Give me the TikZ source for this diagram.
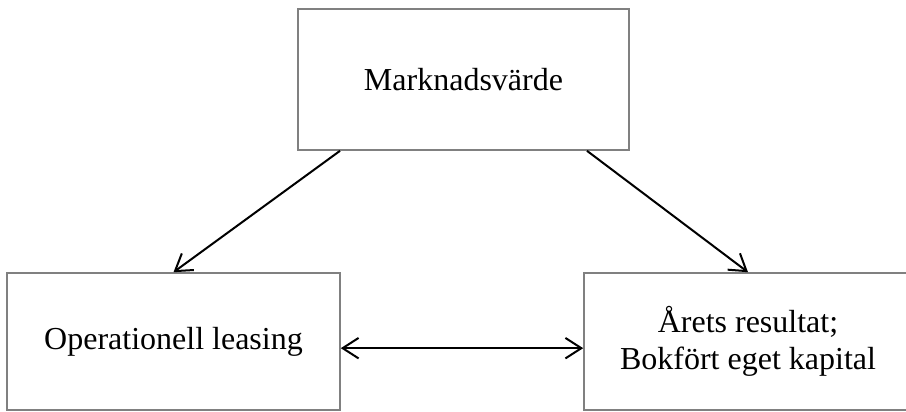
\documentclass[tikz,border=0pt]{standalone}
\usepackage{fontspec}
\setmainfont{Liberation Serif}
\usetikzlibrary{arrows.meta}

\begin{document}
\begin{tikzpicture}[x=0.75pt, y=-0.75pt, >={Straight Barb[length=4.2mm, width=5.4mm]}, line width=1.2pt,
  ruta/.style={draw=black!50, align=center, inner sep=0pt, font=\fontsize{24}{27.6}\selectfont},
  flecha/.style={line width=1.5pt}]
  % marco de la figura
  \useasboundingbox (0,0) rectangle (906,411);
  % tres cajas
  \node[ruta, minimum width=248.25pt, minimum height=105.75pt] (mv) at (463.5,79.5) {Marknadsvärde};
  \node[ruta, minimum width=249.75pt, minimum height=102.75pt] (ol) at (173.5,341.5) {Operationell leasing};
  \node[ruta, minimum width=246pt, minimum height=102.75pt] (ar) at (748,341.5) {Årets resultat;\\Bokfört eget kapital};
  % flechas
  \draw[flecha, ->] ([xshift=-92.6pt]mv.south) -- (ol.north);
  \draw[flecha, ->] ([xshift=92.6pt]mv.south) -- (ar.north);
  \draw[flecha, <->] ([yshift=-5pt]ol.east) -- ([yshift=-5pt]ar.west);
\end{tikzpicture}
\end{document}
